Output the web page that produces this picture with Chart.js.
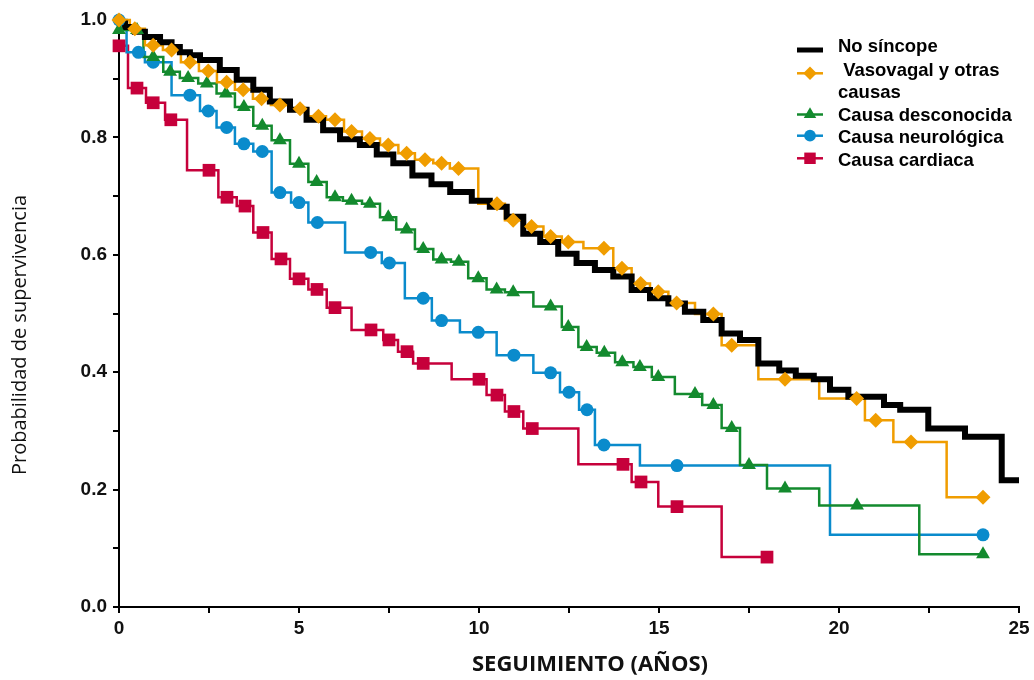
<!DOCTYPE html>
<html lang="es">
<head>
<meta charset="utf-8">
<title>Probabilidad de supervivencia según causa del síncope</title>
<script src="https://cdn.jsdelivr.net/npm/chart.js@4.4.1/dist/chart.umd.min.js"></script>
<style>
  html, body { margin: 0; padding: 0; background: #fff; }
  #wrap { width: 1034px; height: 680px; }
</style>
</head>
<body>
<div id="wrap"><canvas id="survivalChart" width="1034" height="680"></canvas></div>
<script>
// Kaplan-Meier curves: [years, survival after the drop at that time]
const noSincope = [
  [0, 0.994], [0.17, 0.988], [0.44, 0.980], [0.72, 0.971], [1.14, 0.962],
  [1.46, 0.954], [1.69, 0.945], [1.97, 0.940], [2.25, 0.932], [2.8, 0.915],
  [3.27, 0.898], [3.73, 0.881], [4.19, 0.861], [4.75, 0.847], [5.21, 0.830],
  [5.67, 0.812], [6.14, 0.797], [6.69, 0.787], [7.16, 0.771], [7.62, 0.756],
  [8.15, 0.735], [8.68, 0.720], [9.2, 0.707], [9.8, 0.692], [10.3, 0.682],
  [10.77, 0.665], [11.23, 0.636], [11.7, 0.622], [12.2, 0.602], [12.71, 0.586],
  [13.22, 0.574], [13.73, 0.563], [14.24, 0.540], [14.75, 0.526], [15.26, 0.517],
  [15.72, 0.503], [16.23, 0.489], [16.74, 0.466], [17.25, 0.455], [17.76, 0.415],
  [18.34, 0.403], [18.8, 0.394], [19.3, 0.388], [19.75, 0.370], [20.26, 0.358],
  [21.25, 0.344], [21.7, 0.336], [22.48, 0.304], [23.5, 0.290], [24.52, 0.216],
  [25, 0.216]
];
const vasovagal = [
  [0, 1.0], [0.3, 0.985], [0.72, 0.957], [1.22, 0.949], [1.72, 0.928],
  [2.22, 0.913], [2.72, 0.894], [3.22, 0.881], [3.72, 0.866], [4.22, 0.855],
  [4.75, 0.849], [5.25, 0.836], [5.75, 0.830], [6.25, 0.810], [6.75, 0.798],
  [7.25, 0.787], [7.76, 0.773], [8.22, 0.762], [8.73, 0.756], [9.19, 0.747],
  [9.98, 0.687], [10.72, 0.659], [11.23, 0.648], [11.79, 0.631], [12.3, 0.622],
  [12.9, 0.611], [13.73, 0.577], [14.24, 0.551], [14.75, 0.537], [15.26, 0.518],
  [16.0, 0.499], [16.74, 0.446], [17.76, 0.388], [19.45, 0.355], [20.72, 0.318],
  [21.51, 0.281], [22.99, 0.187], [24.0, 0.187]
];
const desconocida = [
  [0, 0.983], [0.68, 0.937], [1.23, 0.912], [1.69, 0.901], [2.2, 0.892],
  [2.71, 0.875], [3.22, 0.852], [3.73, 0.820], [4.24, 0.795], [4.75, 0.755],
  [5.26, 0.724], [5.77, 0.698], [6.22, 0.692], [6.75, 0.687], [7.25, 0.664],
  [7.7, 0.643], [8.22, 0.610], [8.73, 0.592], [9.22, 0.588], [9.7, 0.560],
  [10.21, 0.541], [10.72, 0.536], [11.51, 0.512], [12.3, 0.477], [12.76, 0.443],
  [13.27, 0.433], [13.78, 0.417], [14.29, 0.409], [14.8, 0.392], [15.44, 0.363],
  [16.2, 0.344], [16.74, 0.305], [17.25, 0.242], [18.0, 0.202], [19.45, 0.173],
  [22.23, 0.090], [24.0, 0.090]
];
const neurologica = [
  [0, 1.0], [0.21, 0.945], [0.72, 0.928], [1.46, 0.872], [2.25, 0.845],
  [2.71, 0.817], [3.22, 0.789], [3.73, 0.776], [4.24, 0.706], [4.78, 0.689],
  [5.26, 0.655], [6.28, 0.604], [7.3, 0.586], [7.94, 0.526], [8.69, 0.488],
  [9.47, 0.468], [10.49, 0.429], [11.51, 0.399], [12.25, 0.366], [12.78, 0.336],
  [13.22, 0.276], [14.47, 0.241], [19.75, 0.123], [24.0, 0.123]
];
const cardiaca = [
  [0, 0.956], [0.25, 0.884], [0.75, 0.859], [1.28, 0.830], [1.89, 0.744],
  [2.76, 0.698], [3.27, 0.683], [3.73, 0.638], [4.24, 0.593], [4.75, 0.559],
  [5.26, 0.541], [5.77, 0.510], [6.46, 0.472], [7.34, 0.455], [7.75, 0.435],
  [8.17, 0.415], [9.24, 0.388], [10.21, 0.361], [10.72, 0.333], [11.23, 0.304],
  [12.76, 0.243], [14.24, 0.213], [14.98, 0.171], [16.74, 0.085], [18.0, 0.085]
];

// censoring marks (years); their height is taken from the curve
const vasovagalMarks = [0, 0.44, 0.95, 1.46, 1.97, 2.48, 2.99, 3.45, 3.96, 4.47, 5.03,
  5.54, 6.0, 6.46, 6.97, 7.48, 7.99, 8.5, 8.96, 9.43, 10.5, 10.95, 11.46, 11.99,
  12.48, 13.47, 13.97, 14.49, 14.98, 15.49, 16.51, 17.02, 18.5, 20.49, 21.02, 22.0, 24.0];
const desconocidaMarks = [0, 0.5, 0.95, 1.42, 1.92, 2.44, 2.97, 3.47, 3.98, 4.47, 5.0,
  5.49, 6.0, 6.46, 6.97, 7.48, 7.99, 8.45, 8.96, 9.44, 9.98, 10.49, 10.95, 11.99,
  12.48, 12.99, 13.48, 13.98, 14.47, 14.98, 16.0, 16.51, 17.02, 17.5, 18.5, 20.5, 24.0];
const neurologicaMarks = [0, 0.54, 0.95, 1.97, 2.48, 2.99, 3.47, 3.98, 4.47, 5.0, 5.51,
  6.99, 7.51, 8.45, 8.96, 9.98, 10.97, 11.99, 12.5, 13.0, 13.47, 15.5, 24.0];
const cardiacaMarks = [0, 0.5, 0.95, 1.44, 2.5, 3.0, 3.5, 4.0, 4.5, 5.0, 5.5, 6.0,
  7.0, 7.5, 8.0, 8.45, 10.0, 10.5, 10.97, 11.48, 14.0, 14.5, 15.5, 18.0];

const xTickLabels = [0, 5, 10, 15, 20, 25];
const yTickLabels = ['0.0', '0.2', '0.4', '0.6', '0.8', '1.0'];
const xTitle = 'SEGUIMIENTO (AÑOS)';
const yTitle = 'Probabilidad de supervivencia';

const series = [
  { label: ['No síncope'], steps: noSincope, marks: [], color: '#000000', width: 6 },
  { label: [' Vasovagal y otras', 'causas'], steps: vasovagal, marks: vasovagalMarks,
    color: '#f09d00', width: 2.5, style: 'rectRot', radius: 7.5 },
  { label: ['Causa desconocida'], steps: desconocida, marks: desconocidaMarks,
    color: '#138a2e', width: 2.5, style: 'triangle', radius: 8 },
  { label: ['Causa neurológica'], steps: neurologica, marks: neurologicaMarks,
    color: '#0a8bcc', width: 2.5, style: 'circle', radius: 6.5 },
  { label: ['Causa cardiaca'], steps: cardiaca, marks: cardiacaMarks,
    color: '#c6003b', width: 2.5, style: 'rect', radius: 9 }
];

// survival value of a step curve at time t
function survivalAt(steps, t) {
  let v = steps[0][1];
  for (const [x, y] of steps) {
    if (x <= t + 1e-9) v = y;
  }
  return v;
}

const datasets = [];
series.forEach((s, i) => {
  datasets.push({
    data: s.steps.map(([x, y]) => ({ x, y })),
    stepped: true,
    borderColor: s.color,
    borderWidth: s.width,
    borderJoinStyle: 'miter',
    pointRadius: 0,
    fill: false,
    clip: false,
    order: 10 + i
  });
  if (s.marks.length) {
    datasets.push({
      data: s.marks.map(t => ({ x: t, y: survivalAt(s.steps, t) })),
      showLine: false,
      pointStyle: s.style,
      pointRadius: s.radius,
      backgroundColor: s.color,
      borderColor: s.color,
      borderWidth: 0,
      clip: false,
      order: i
    });
  }
});

function drawMark(ctx, style, x, y, r) {
  ctx.beginPath();
  if (style === 'circle') {
    ctx.arc(x, y, r, 0, Math.PI * 2);
  } else if (style === 'rectRot') {
    ctx.moveTo(x - r, y); ctx.lineTo(x, y - r); ctx.lineTo(x + r, y); ctx.lineTo(x, y + r);
    ctx.closePath();
  } else if (style === 'triangle') {
    const h = r * Math.cos(Math.PI / 6);
    ctx.moveTo(x, y - r); ctx.lineTo(x + h, y + r / 2); ctx.lineTo(x - h, y + r / 2);
    ctx.closePath();
  } else if (style === 'rect') {
    const s = r * Math.SQRT1_2;
    ctx.rect(x - s, y - s, 2 * s, 2 * s);
  }
  ctx.fill();
}

// axis titles and the legend box in the upper right
const overlay = {
  id: 'overlay',
  afterDraw(chart) {
    const ctx = chart.ctx;
    const area = chart.chartArea;
    ctx.save();
    ctx.fillStyle = '#111';
    ctx.textAlign = 'center';
    ctx.textBaseline = 'alphabetic';
    ctx.font = 'bold 22px "Open Sans", "Liberation Sans", sans-serif';
    ctx.fillText(xTitle, area.left + 471, area.bottom + 64);

    ctx.save();
    ctx.translate(26, area.top + 315);
    ctx.rotate(-Math.PI / 2);
    ctx.font = '20px "Open Sans", "Liberation Sans", sans-serif';
    ctx.fillText(yTitle, 0, 0);
    ctx.restore();

    const lineY = [50, 73.3, 114.5, 135.7, 158.3];
    const textY = [[51.7], [76, 97.5], [121], [142.7], [165.7]];
    ctx.textAlign = 'left';
    ctx.font = 'bold 18.5px "Liberation Sans", Arial, sans-serif';
    series.forEach((s, i) => {
      ctx.strokeStyle = s.color;
      ctx.lineWidth = i === 0 ? 5 : 2.5;
      ctx.beginPath();
      ctx.moveTo(797, lineY[i]);
      ctx.lineTo(823, lineY[i]);
      ctx.stroke();
      if (s.style) {
        ctx.fillStyle = s.color;
        drawMark(ctx, s.style, 810, lineY[i], s.radius * 0.9);
      }
      ctx.fillStyle = '#000';
      s.label.forEach((txt, k) => ctx.fillText(txt, 838, textY[i][k]));
    });
    ctx.restore();
  }
};

const axisFont = { family: '"Liberation Sans", Arial, sans-serif', size: 19, weight: 'bold' };

new Chart(document.getElementById('survivalChart'), {
  type: 'line',
  data: { datasets },
  options: {
    responsive: false,
    animation: false,
    events: [],
    devicePixelRatio: 1,
    layout: { padding: { left: 0, right: 15, top: 20, bottom: 0 } },
    plugins: { legend: { display: false }, tooltip: { enabled: false } },
    scales: {
      x: {
        type: 'linear',
        min: 0,
        max: 25,
        afterFit: scale => { scale.height = 73; },
        border: { display: true, color: '#000', width: 2 },
        grid: { drawOnChartArea: false, drawTicks: true, tickLength: 6, color: '#000', lineWidth: 2 },
        ticks: {
          stepSize: 2.5,
          autoSkip: false,
          maxRotation: 0,
          padding: 4,
          color: '#111',
          font: axisFont,
          callback: v => (xTickLabels.includes(v) ? String(v) : '')
        }
      },
      y: {
        type: 'linear',
        min: 0,
        max: 1,
        afterFit: scale => { scale.width = 119; },
        border: { display: true, color: '#000', width: 2 },
        grid: { drawOnChartArea: false, drawTicks: true, tickLength: 6, color: '#000', lineWidth: 2 },
        ticks: {
          stepSize: 0.1,
          autoSkip: false,
          padding: 6,
          color: '#111',
          font: axisFont,
          callback: v => {
            const txt = (Math.round(v * 10) / 10).toFixed(1);
            return yTickLabels.includes(txt) ? txt : '';
          }
        }
      }
    }
  },
  plugins: [overlay]
});
</script>
</body>
</html>
